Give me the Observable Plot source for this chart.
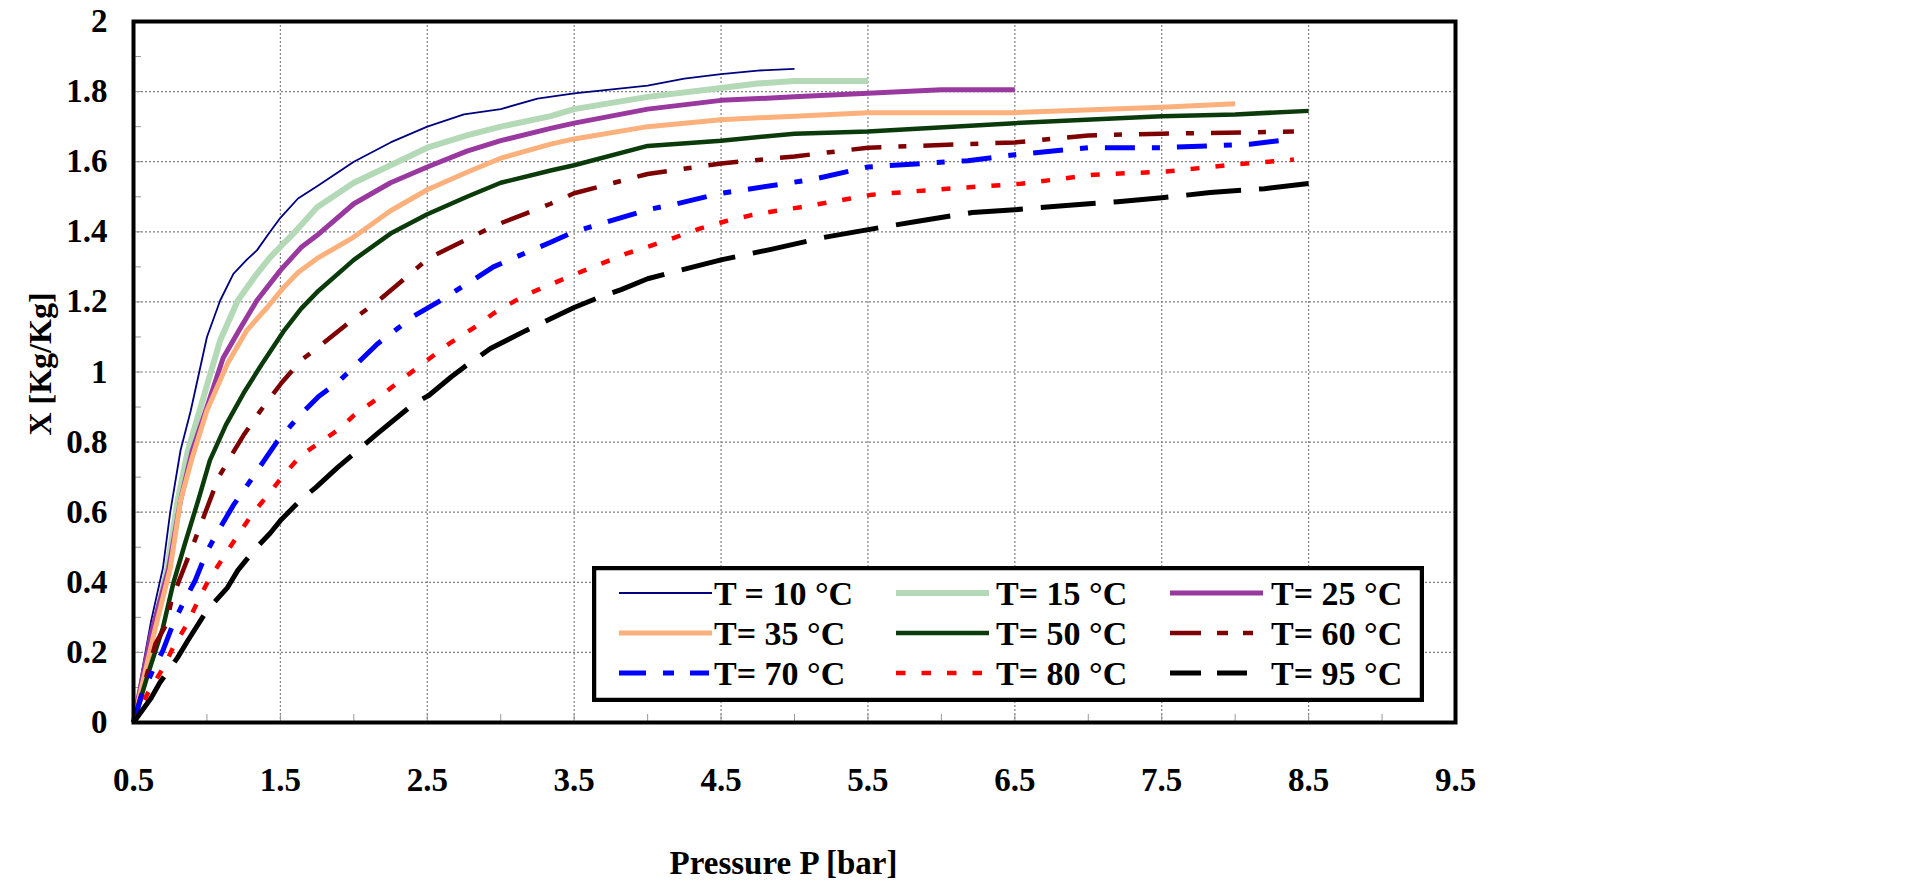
<!DOCTYPE html>
<html>
<head>
<meta charset="utf-8">
<script src="https://cdn.jsdelivr.net/npm/d3@7"></script>
<script src="https://cdn.jsdelivr.net/npm/@observablehq/plot@0.6"></script>
<style>
  html, body { margin: 0; padding: 0; background: white; }
  #wrap { position: relative; width: 1907px; height: 882px; }
  #legend { position: absolute; left: 592px; top: 566px; }
</style>
</head>
<body>
<div id="wrap"><div id="chart"></div><div id="legend"></div></div>
<script>
// ---------- data ----------
const seriesNames = ["T = 10 °C", "T= 15 °C", "T= 25 °C", "T= 35 °C", "T= 50 °C", "T= 60 °C", "T= 70 °C", "T= 80 °C", "T= 95 °C"];

const p10 = [0.5,0.55,0.62,0.70,0.75,0.82,0.89,1.0,1.09,1.18,1.27,1.34,1.43,1.5,1.62,1.75,2.0,2.25,2.5,2.75,3.0,3.25,3.5,4.0,4.25,4.5,4.75,5.0];
const x10 = [0,0.128,0.29,0.44,0.6,0.776,0.89,1.10,1.204,1.28,1.32,1.347,1.40,1.44,1.495,1.53,1.60,1.655,1.70,1.735,1.75,1.78,1.795,1.817,1.837,1.85,1.86,1.865];

const p15 = [0.5,0.57,0.65,0.73,0.80,0.87,0.95,1.09,1.21,1.34,1.43,1.52,1.60,1.75,2.0,2.25,2.5,2.77,3.0,3.34,3.5,4.0,4.5,4.75,5.0,5.5];
const x15 = [0,0.128,0.29,0.44,0.633,0.776,0.89,1.09,1.204,1.28,1.327,1.366,1.40,1.47,1.54,1.59,1.64,1.675,1.70,1.73,1.75,1.785,1.81,1.823,1.83,1.83];

const p25 = [0.5,0.62,0.74,0.82,0.90,1.0,1.11,1.23,1.34,1.5,1.64,1.75,2.0,2.25,2.5,2.77,3.0,3.34,3.5,4.0,4.5,5.0,5.5,6.0,6.5];
const x25 = [0,0.254,0.44,0.633,0.776,0.90,1.04,1.127,1.204,1.29,1.355,1.39,1.48,1.54,1.585,1.63,1.66,1.695,1.71,1.75,1.775,1.785,1.795,1.805,1.805];

const p35 = [0.5,0.64,0.75,0.82,0.90,1.0,1.14,1.27,1.41,1.52,1.62,1.75,2.0,2.25,2.5,2.77,3.0,3.34,3.5,4.0,4.5,5.0,5.5,6.5,7.5,8.0];
const x35 = [0,0.254,0.44,0.633,0.756,0.89,1.024,1.118,1.184,1.24,1.284,1.324,1.385,1.46,1.52,1.57,1.61,1.65,1.665,1.70,1.72,1.73,1.74,1.74,1.755,1.765];

const p50 = [0.5,0.60,0.70,0.77,0.85,0.94,1.02,1.13,1.25,1.37,1.52,1.64,1.76,2.0,2.25,2.5,2.77,3.0,3.34,3.5,4.0,4.5,5.0,5.5,6.5,7.5,8.0,8.5];
const x50 = [0,0.14,0.27,0.396,0.51,0.633,0.748,0.85,0.94,1.02,1.115,1.18,1.232,1.32,1.395,1.45,1.50,1.54,1.575,1.59,1.645,1.66,1.68,1.686,1.71,1.73,1.735,1.745];

const p60 = [0.5,0.65,0.72,0.76,0.82,0.89,0.95,1.08,1.16,1.25,1.36,1.51,1.64,1.77,2.0,2.17,2.51,2.96,3.17,3.34,3.5,4.0,4.5,5.0,5.5,6.5,7.0,7.5,8.4];
const x60 = [0,0.225,0.277,0.35,0.415,0.49,0.556,0.70,0.758,0.82,0.887,0.97,1.033,1.075,1.152,1.204,1.325,1.418,1.452,1.48,1.51,1.565,1.595,1.615,1.64,1.655,1.675,1.68,1.686];

const p70 = [0.5,0.55,0.63,0.70,0.77,0.84,0.92,1.0,1.09,1.18,1.28,1.39,1.48,1.64,1.76,1.89,2.16,2.41,2.59,2.84,2.95,3.17,3.34,3.5,3.69,4.0,4.2,4.5,5.13,5.5,6.18,6.5,7.0,7.5,8.1,8.4];
const x70 = [0,0.07,0.148,0.205,0.282,0.342,0.405,0.488,0.556,0.62,0.68,0.748,0.803,0.88,0.93,0.97,1.08,1.16,1.204,1.27,1.30,1.34,1.37,1.40,1.424,1.463,1.48,1.51,1.55,1.585,1.603,1.62,1.64,1.64,1.65,1.665];

const p80 = [0.5,0.60,0.70,0.77,0.87,0.94,1.01,1.11,1.21,1.31,1.43,1.51,1.64,1.79,1.91,2.0,2.16,2.3,2.52,2.66,2.82,2.95,3.16,3.34,3.5,3.69,3.85,4.02,4.18,4.36,4.53,4.7,4.88,5.04,5.38,5.53,6.04,6.54,7.04,7.53,8.0,8.4];
const x80 = [0,0.086,0.154,0.214,0.285,0.348,0.405,0.47,0.534,0.596,0.656,0.70,0.762,0.805,0.84,0.876,0.924,0.97,1.04,1.084,1.127,1.167,1.218,1.25,1.278,1.31,1.337,1.36,1.383,1.41,1.43,1.447,1.46,1.47,1.495,1.506,1.523,1.537,1.563,1.572,1.592,1.606];

const p95 = [0.5,0.62,0.68,0.80,0.87,1.0,1.14,1.21,1.33,1.43,1.5,1.64,1.74,1.89,2.0,2.16,2.41,2.51,2.66,2.77,2.93,3.17,3.5,3.67,3.82,4.0,4.19,4.5,4.84,5.2,5.58,5.84,6.21,6.5,6.85,7.2,7.5,7.83,8.2,8.5];
const x95 = [0,0.07,0.114,0.185,0.234,0.32,0.385,0.434,0.496,0.54,0.576,0.636,0.67,0.728,0.767,0.824,0.91,0.933,0.985,1.02,1.067,1.118,1.184,1.213,1.235,1.266,1.287,1.32,1.35,1.384,1.412,1.43,1.455,1.463,1.475,1.486,1.497,1.512,1.523,1.538];

const xTicks = [0.5,1.5,2.5,3.5,4.5,5.5,6.5,7.5,8.5,9.5];
const xTickLabels = ["0.5","1.5","2.5","3.5","4.5","5.5","6.5","7.5","8.5","9.5"];
const yTicks = [0,0.2,0.4,0.6,0.8,1,1.2,1.4,1.6,1.8,2];
const yTickLabels = ["0","0.2","0.4","0.6","0.8","1","1.2","1.4","1.6","1.8","2"];
const xGrid = [1.5,2.5,3.5,4.5,5.5,6.5,7.5,8.5];
const yGrid = [0.2,0.4,0.6,0.8,1,1.2,1.4,1.6,1.8];
const xMinor = [1,1.5,2,2.5,3,3.5,4,4.5,5,5.5,6,6.5,7,7.5,8,8.5,9];
const yMinor = [0.1,0.2,0.3,0.4,0.5,0.6,0.7,0.8,0.9,1,1.1,1.2,1.3,1.4,1.5,1.6,1.7,1.8,1.9];

// ---------- table + styles ----------
const pArrays = [p10,p15,p25,p35,p50,p60,p70,p80,p95];
const xArrays = [x10,x15,x25,x35,x50,x60,x70,x80,x95];
const table = seriesNames.flatMap((name, i) => pArrays[i].map((p, j) => ({series: name, p, x: xArrays[i][j]})));

const styles = [
  {color: "#000080", width: 1.8, dash: null, legendDash: null, legendLen: 93},
  {color: "#b4d9b6", width: 6, dash: null, legendDash: null, legendLen: 93},
  {color: "#99399f", width: 5, dash: null, legendDash: null, legendLen: 93},
  {color: "#fcb07c", width: 5, dash: null, legendDash: null, legendLen: 93},
  {color: "#0b3b0b", width: 4.5, dash: null, legendDash: null, legendLen: 93},
  {color: "#7f0000", width: 4.5, dash: "30,17,8,17", legendDash: "31,16,11,15,10,60", legendLen: 93},
  {color: "#0000ff", width: 5, dash: "30,17,8,17", legendDash: "27,17,11,16,19,60", legendLen: 90},
  {color: "#ff0000", width: 4.5, dash: "9,16", legendDash: "9.5,16", legendLen: 90},
  {color: "#000000", width: 5, dash: "55,18", legendDash: "31,16,30,60", legendLen: 93}
];

const font = "'Liberation Serif','Times New Roman',Times,serif";

const lineMarks = seriesNames.map((name, i) => Plot.line(table.filter(d => d.series === name), {
  x: "p", y: "x", stroke: styles[i].color, strokeWidth: styles[i].width,
  strokeDasharray: styles[i].dash, strokeLinecap: "butt", strokeLinejoin: "round"
}));

const chart = Plot.plot({
  width: 1907, height: 882,
  marginLeft: 133, marginRight: 452, marginTop: 21, marginBottom: 160,
  x: {domain: [0.5, 9.5]},
  y: {domain: [0, 2]},
  style: {fontFamily: font, fontWeight: "bold", fontSize: "33px", background: "white", color: "black", overflow: "visible"},
  marks: [
    Plot.gridX(xGrid, {stroke: "#808080", strokeOpacity: 1, strokeWidth: 1.2, strokeDasharray: "2,2"}),
    Plot.gridY(yGrid, {stroke: "#808080", strokeOpacity: 1, strokeWidth: 1.2, strokeDasharray: "2,2"}),
    Plot.axisX(xMinor, {tickSize: 8, dy: -8, tickFormat: () => "", label: null, stroke: "#999"}),
    Plot.axisY(yMinor, {tickSize: 8, dx: 8, tickFormat: () => "", label: null, stroke: "#999"}),
    Plot.axisX(xTicks, {tickSize: 0, tickPadding: 45, tickFormat: d => xTickLabels[xTicks.indexOf(d)], label: null}),
    Plot.axisY(yTicks, {tickSize: 0, tickPadding: 26, tickFormat: d => yTickLabels[yTicks.indexOf(d)], label: null}),
    ...lineMarks,
    Plot.text(["Pressure P [bar]"], {frameAnchor: "bottom", dy: 141, dx: -11, lineAnchor: "middle", textAnchor: "middle", fontSize: 33, fontWeight: "bold", fontFamily: font}),
    Plot.text(["X [Kg/Kg]"], {frameAnchor: "left", dx: -93, dy: -8, rotate: -90, lineAnchor: "middle", textAnchor: "middle", fontSize: 32, fontWeight: "bold", fontFamily: font}),
    Plot.frame({stroke: "black", strokeWidth: 4})
  ]
});
document.getElementById("chart").appendChild(chart);

// ---------- legend ----------
const lw = 832, lh = 136;
const lsvg = d3.select("#legend").append("svg").attr("width", lw).attr("height", lh);
lsvg.append("rect").attr("x", 2).attr("y", 2).attr("width", lw - 4).attr("height", lh - 4)
  .attr("fill", "white").attr("stroke", "black").attr("stroke-width", 4.5);
const colX = [27, 304, 578];   // sample start within legend
const colText = [122, 404, 679];
const rowY = [27, 67, 107];
seriesNames.forEach((name, i) => {
  const c = i % 3, r = Math.floor(i / 3);
  lsvg.append("line")
    .attr("x1", colX[c]).attr("x2", colX[c] + styles[i].legendLen)
    .attr("y1", rowY[r]).attr("y2", rowY[r])
    .attr("stroke", styles[i].color).attr("stroke-width", styles[i].width)
    .attr("stroke-dasharray", styles[i].legendDash);
  lsvg.append("text")
    .attr("x", colText[c]).attr("y", rowY[r]).attr("dy", "0.35em")
    .attr("font-family", font).attr("font-weight", "bold").attr("font-size", 34)
    .text(name);
});
</script>
</body>
</html>
